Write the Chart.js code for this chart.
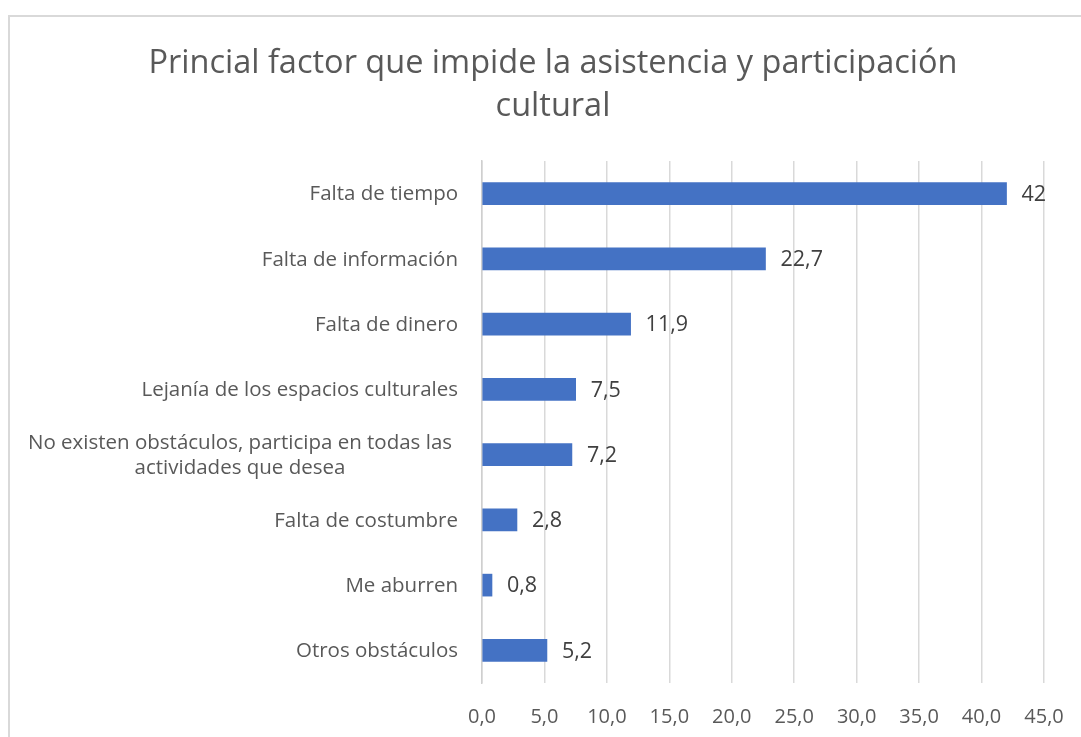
<!DOCTYPE html>
<html>
<head>
<meta charset="utf-8">
<script src="https://cdn.jsdelivr.net/npm/chart.js@4.4.0/dist/chart.umd.min.js"></script>
<style>
  html, body { margin: 0; padding: 0; background: #fff; overflow: hidden; }
  #frame { position: absolute; left: 8px; top: 15px; width: 1200px; height: 800px;
           border-top: 2px solid #d9d9d9; border-left: 2px solid #d9d9d9; }
  #chart { position: absolute; left: 9px; top: 16px; }
</style>
</head>
<body>
<div id="frame"></div>
<canvas id="chart" width="1088" height="721"></canvas>
<script>
const titleLines = ['Princial factor que impide la asistencia y participación', 'cultural'];
const categories = [
  'Falta de tiempo',
  'Falta de información',
  'Falta de dinero',
  'Lejanía de los espacios culturales',
  ['No existen obstáculos, participa en todas las', 'actividades que desea'],
  'Falta de costumbre',
  'Me aburren',
  'Otros obstáculos'
];
const values = [42, 22.7, 11.9, 7.5, 7.2, 2.8, 0.8, 5.2];
const xMin = 0, xMax = 45, xStep = 5;

const FONT = '"Open Sans", Lato, sans-serif';
const comma = v => String(v).replace('.', ',');

// title drawn by hand, centred on the whole frame like Excel
const titlePlugin = {
  id: 'titlePlugin',
  afterDraw(chart) {
    const ctx = chart.ctx;
    ctx.save();
    ctx.font = '32.5px ' + FONT;
    ctx.fillStyle = '#595959';
    ctx.textAlign = 'center';
    ctx.textBaseline = 'middle';
    titleLines.forEach((t, i) => ctx.fillText(t, 544, 48 + i * 43));
    ctx.restore();
  }
};

// y labels drawn by hand so the two-line one can be centred
const yLabels = {
  id: 'yLabels',
  afterDraw(chart) {
    const ctx = chart.ctx, y = chart.scales.y;
    ctx.save();
    ctx.font = '20.5px ' + FONT;
    ctx.fillStyle = '#595959';
    ctx.textBaseline = 'middle';
    categories.forEach((lab, i) => {
      const py = y.getPixelForValue(i) + 1;
      const lines = Array.isArray(lab) ? lab : [lab];
      const n = lines.length;
      lines.forEach((t, j) => {
        const ly = py + (j - (n - 1) / 2) * 25;
        if (n > 1) { ctx.textAlign = 'center'; ctx.fillText(t, 231, ly); }
        else { ctx.textAlign = 'right'; ctx.fillText(t, chart.chartArea.left - 24, ly); }
      });
    });
    ctx.restore();
  }
};

// value labels at the end of each bar
const valueLabels = {
  id: 'valueLabels',
  afterDatasetsDraw(chart) {
    const ctx = chart.ctx;
    ctx.save();
    ctx.font = '21.5px ' + FONT;
    ctx.fillStyle = '#404040';
    ctx.textAlign = 'left';
    ctx.textBaseline = 'middle';
    chart.getDatasetMeta(0).data.forEach((bar, i) => {
      ctx.fillText(comma(values[i]), bar.x + 15, bar.y + 1);
    });
    ctx.restore();
  }
};

new Chart(document.getElementById('chart').getContext('2d'), {
  type: 'bar',
  data: {
    labels: categories,
    datasets: [{
      data: values,
      backgroundColor: '#4472C4',
      barThickness: 22
    }]
  },
  options: {
    indexAxis: 'y',
    responsive: false,
    animation: false,
    layout: { padding: { top: 145, right: 53, bottom: 0, left: 0 } },
    scales: {
      x: {
        min: xMin, max: xMax,
        grid: { color: '#d9d9d9', lineWidth: 1.5, drawTicks: false },
        border: { display: false },
        ticks: {
          stepSize: xStep, padding: 22, color: '#595959',
          font: { family: FONT, size: 20 },
          callback: v => v.toFixed(1).replace('.', ',')
        },
        afterFit: s => { s.height = 54; }
      },
      y: {
        grid: { display: false },
        border: { color: '#cfcfcf', width: 1.5 },
        ticks: { display: false },
        afterFit: s => { s.width = 473; }
      }
    },
    plugins: {
      legend: { display: false },
      tooltip: { enabled: false },
      title: { display: false }
    }
  },
  plugins: [titlePlugin, yLabels, valueLabels]
});
</script>
</body>
</html>
